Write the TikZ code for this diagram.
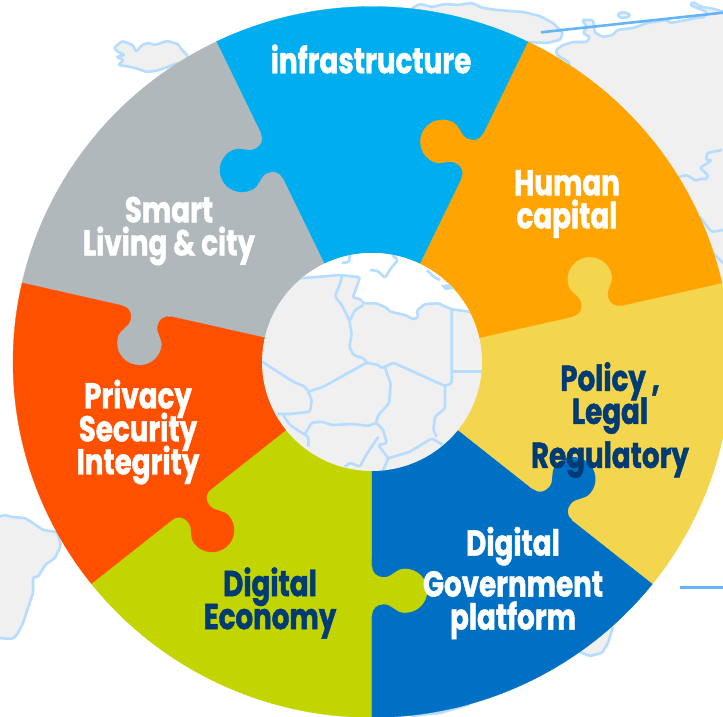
\documentclass[tikz,border=0pt]{standalone}
\usepackage{fontspec}
\newfontfamily\labelfont[FakeStretch=0.77,FakeBold=1.2]{Poppins}
\usetikzlibrary{positioning}
\definecolor{landgrey}{RGB}{240,240,240}
\definecolor{coastblue}{RGB}{182,221,255}
\definecolor{rayblue}{RGB}{100,180,250}
\definecolor{infracyan}{RGB}{0,174,239}
\definecolor{humanorange}{RGB}{255,164,0}
\definecolor{policyyellow}{RGB}{243,213,78}
\definecolor{govblue}{RGB}{0,112,197}
\definecolor{econgreen}{RGB}{194,213,0}
\definecolor{privacyred}{RGB}{255,80,0}
\definecolor{smartgrey}{RGB}{176,184,187}
\definecolor{labelnavy}{RGB}{0,59,115}
\newcommand{\labelstyle}{\labelfont\bfseries\fontsize{36}{33}\selectfont\setlength{\lineskiplimit}{-50pt}}
\newcommand{\tabcurve}{(0,-206) .. controls (0,-213) and (5,-217.3) .. (11.7,-217.3) .. controls (21,-217.3) and (23,-208.7) .. (33,-208.7) arc[start angle=90,end angle=-90,radius=22.3] .. controls (23,-253.3) and (21,-244.7) .. (11.7,-244.7) .. controls (5,-244.7) and (0,-249) .. (0,-256)}

\begin{document}
\begin{tikzpicture}[x=1pt, y=-1pt,
    land/.style={fill=landgrey, draw=coastblue, line width=2.6pt, line join=round, rounded corners=1.5pt},
    border/.style={draw=coastblue, line width=2.6pt, line join=round, rounded corners=1.5pt},
    ray/.style={draw=rayblue, line width=2.6pt},
    piece/.style={line width=0.3pt},
    lbl/.style={font=\labelstyle, text=white, align=center, inner sep=0pt},
    darklbl/.style={lbl, text=labelnavy}]

  \useasboundingbox (0,0) rectangle (723,717);
  \clip (0,0) rectangle (723,717);

  % map behind the wheel
  \path[land] (114,48) -- (122,41) -- (133,45) -- (136,52) -- (142,45) -- (148,43) -- (155,45) -- (167,41) -- (178,44) -- (182,50) -- (188,56) -- (185,62) -- (175,64) -- (165,68) -- (155,71) -- (147,72) -- (135,68) -- (125,66) -- (118,65) -- (124,60) -- (116,57) -- (125,55) -- (118,52) -- cycle;
  \path[land] (410,30) -- (412,8) -- (420,4) -- (432,7) -- (445,4) -- (458,5) -- (472,3) -- (483,8) -- (497,10) -- (523,12) -- (540,16) -- (553,23) -- (563,33) -- (560,40) -- (547,43) -- (528,42) -- (500,60) -- cycle;
  \path[land] (540,120) -- (570,63) -- (557,55) -- (556,50) -- (563,45) -- (573,42) -- (587,42) -- (590,37) -- (583,33) -- (587,27) -- (582,20) -- (593,20) -- (595,33) -- (603,37) -- (613,35) -- (617,30) -- (633,28) -- (647,23) -- (667,20) -- (670,23) -- (687,20) -- (695,18) -- (705,17) -- (707,12) -- (690,5) -- (693,2) -- (702,7) -- (710,8) -- (725,12) -- (725,300) -- (600,300) -- cycle;
  \path[land] (617,15) -- (622,12) -- (630,14) -- (629,17) -- (621,18) -- cycle;
  \path[land] (-2,517) -- (5,515) -- (12,517) -- (25,518) -- (33,523) -- (43,530) -- (57,532) -- (61,545) -- (55,558) -- (45,565) -- (38,577) -- (33,577) -- (33,593) -- (28,608) -- (23,623) -- (17,635) -- (12,639) -- (-2,638) -- cycle;
  \path[land] (560,620) -- (613,627) -- (608,643) -- (602,653) -- (590,656) -- (580,652) -- cycle;
  \path[land] (400,700) -- (412,716) -- (418,715) -- (440,713) -- (470,704) -- (470,690) -- cycle;
  \path[border] (722,150) -- (707,153) -- (706,160) -- (712,160) -- (700,168) -- (708,175) -- (707,179) -- (700,179) -- (696,181) -- (687,175) -- (678,177);
  \path[border] (700,217) -- (708,228) -- (712,232) -- (723,230);
  \path[border] (713,253) -- (723,263);

  \coordinate (raytopa) at (541,32.3);
  \coordinate (raytopb) at (723,12.7);
  \coordinate (raylowa) at (680,587.3);
  \coordinate (raylowb) at (723,587.3);
  \draw[ray] (raytopa) -- (raytopb);
  \draw[ray] (raylowa) -- (raylowb);

  % the seven pieces, every tab on the counter-clockwise edge
  \begin{scope}[shift={(372,362)}, x=1pt, y=1pt, yscale=0.9903]
    \foreach \k/\col in {0/econgreen,1/govblue,2/policyyellow,3/humanorange,4/infracyan,5/smartgrey,6/privacyred} {
      \begin{scope}[rotate=\k*360/7]
        \filldraw[piece, fill=\col, draw=\col] (0,0) -- (-90:359) arc[start angle=-90, end angle=-141.43, radius=359] -- cycle;
      \end{scope}
    }
    \foreach \k/\col in {0/econgreen,1/govblue,2/policyyellow,3/humanorange,4/infracyan,5/smartgrey,6/privacyred} {
      \begin{scope}[rotate=\k*360/7]
        \fill[\col] \tabcurve -- (-3,-256) -- (-3,-206) -- cycle;
      \end{scope}
    }
  \end{scope}

  % map in the hub
  \begin{scope}
    \path[clip] (372,362) circle[x radius=110, y radius=109];
    \fill[landgrey] (250,240) rectangle (490,480);
    \path[fill=white, draw=coastblue, line width=2.6pt, line join=round, rounded corners=1.5pt] (280,290) -- (300,278.3) -- (320,276.7) -- (340,275) -- (360,277.3) -- (357.3,285) -- (355,291.7) -- (352.7,297.3) -- (360.7,299.3) -- (363.3,303.3) -- (376.7,303.3) -- (387.3,308.3) -- (390,311.7) -- (405,315) -- (413.3,319.3) -- (418.3,317.3) -- (416.7,310.7) -- (425,304) -- (438.3,303.3) -- (451.7,309.3) -- (470,311.7) -- (490,312) -- (490,240) -- (280,240) -- cycle;
    \path[border] (342,275) -- (340.7,281.7) -- (335,296.7) -- (341.7,305) -- (349.3,320) -- (351.7,335) -- (349.3,346.7) -- (353.3,355) -- (363.3,358.3) -- (366.7,362.7);
    \path[border] (363.3,305) -- (355,310) -- (350,320);
    \path[border] (262,361.7) -- (293.3,381.7) -- (305,386.7) -- (308.3,391.7) -- (323.3,386.7) -- (366.7,362.7) -- (378.3,365) -- (381.7,368.3) -- (393.3,362.7) -- (445,386) -- (451.7,383.3) -- (451.7,310);
    \path[border] (451.7,371.7) -- (482,371.7);
    \path[border] (385,366.7) -- (387.3,375) -- (390.7,383.3) -- (389,403.3) -- (378.3,415) -- (376,422.7);
    \path[border] (308.3,391.7) -- (311.7,400) -- (310,411.7) -- (290,414) -- (276.7,414);
    \path[border] (283,415) -- (290,425) -- (300,431.7) -- (308.3,436.7) -- (308.3,446.7);
    \path[border] (305,434) -- (311.7,422.7) -- (321.7,421.7) -- (331.7,425) -- (353.3,424) -- (368.3,426) -- (376,422.7) -- (383.3,430) -- (386.7,443.3) -- (378.3,445) -- (388.3,458.3) -- (383.3,470);
    \path[border] (378.3,436.7) -- (365,456.7) -- (360,466.7) -- (350,462.7) -- (345,466.7);
    \path[border] (388.3,458.3) -- (410,451.7) -- (431.7,438.3) -- (443.3,445);
    \path[border] (445,386) -- (445,408.3) -- (435,416.7) -- (433.3,430) -- (436.7,436.7);
    \path[border] (341,256) -- (350,254) -- (349,262) -- (342,263);
    \path[border] (370,270) -- (378,271) -- (385,278) -- (391,268) -- (398,260) -- (392,255);
    \path[border] (427,270) -- (434,277) -- (440,280);
    \path[fill=coastblue] (441,285) -- (450,284) -- (454,289) -- (445,290) -- cycle;
  \end{scope}

  % labels
  \node[lbl] (infra) at (371,59) {infrastructure};
  \node[lbl] (human) at (567,204) {Human\\capital};
  \node[lbl] (smart) at (169,231) {Smart\\Living \& city};
  \node[darklbl] (policy) at (610,420) {Policy ,\\Legal\\[11pt]Regulatory};
  \node[lbl] (govt) at (513,583) {Digital\\[8pt]Government\\platform};
  \node[darklbl] (economy) at (270,603) {Digital\\Economy};
  \node[lbl] (privacy) at (138,432) {Privacy\\Security\\Integrity};
\end{tikzpicture}
\end{document}
